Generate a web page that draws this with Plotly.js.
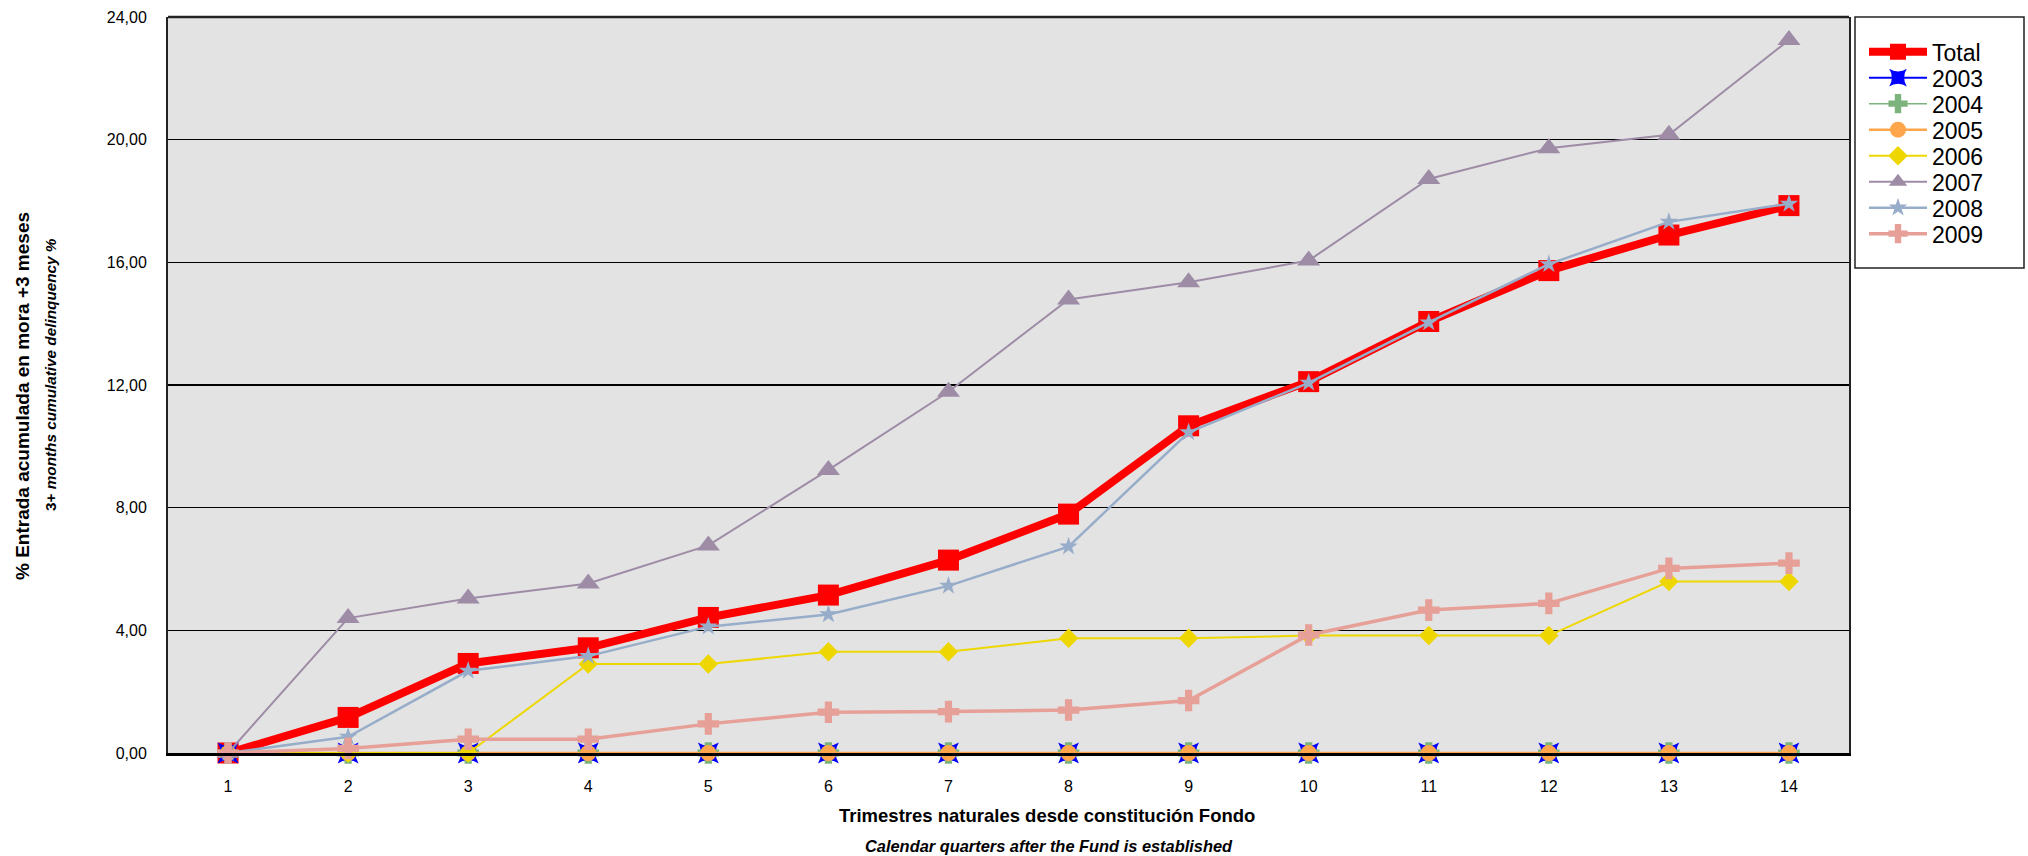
<!DOCTYPE html>
<html>
<head>
<meta charset="utf-8">
<script src="https://cdn.plot.ly/plotly-3.0.1.min.js"></script>
<style>
  html, body { margin: 0; padding: 0; background: #ffffff; }
  #chart { width: 2028px; height: 856px; }
</style>
</head>
<body>
<div id="chart"></div>
<script>
// ---- Data ----
const quarters = [1, 2, 3, 4, 5, 6, 7, 8, 9, 10, 11, 12, 13, 14];
const yTickVals = [0, 4, 8, 12, 16, 20, 24];

const seriesNames = ["Total", "2003", "2004", "2005", "2006", "2007", "2008", "2009"];

const total  = [0.00, 1.16, 2.92, 3.43, 4.42, 5.15, 6.29, 7.79, 10.67, 12.11, 14.07, 15.73, 16.89, 17.85];
const y2003  = [0, 0, 0, 0, 0, 0, 0, 0, 0, 0, 0, 0, 0, 0];
const y2004  = [0, 0, 0, 0, 0, 0, 0, 0, 0, 0, 0, 0, 0, 0];
const y2005  = [0, 0, 0, 0, 0, 0, 0, 0, 0, 0, 0, 0, 0, 0];
const y2006  = [0.00, 0.00, 0.00, 2.90, 2.90, 3.30, 3.30, 3.74, 3.74, 3.83, 3.83, 3.83, 5.59, 5.59];
const y2007  = [0.00, 4.40, 5.04, 5.53, 6.77, 9.23, 11.78, 14.79, 15.35, 16.06, 18.72, 19.72, 20.16, 23.25];
const y2008  = [0.00, 0.53, 2.68, 3.16, 4.12, 4.52, 5.45, 6.73, 10.46, 12.07, 14.04, 15.94, 17.32, 17.91];
const y2009  = [0.00, 0.15, 0.45, 0.45, 0.95, 1.33, 1.35, 1.40, 1.71, 3.85, 4.66, 4.88, 6.02, 6.19];

const yTitle1 = "% Entrada acumulada en mora +3 meses";
const yTitle2 = "3+ <i>months cumulative delinquency %</i>";
const xTitle1 = "Trimestres naturales desde constitución Fondo";
const xTitle2 = "Calendar quarters after the Fund is established";

// ---- Styles ----
const FONT = "Liberation Sans, Arial, Helvetica, sans-serif";
const styles = [
  {color: "#FF0000", width: 8,   symbol: "square",      size: 21},
  {color: "#0000FF", width: 2,   symbol: "star-square", size: 19},
  {color: "#7DB37D", width: 1.5, symbol: "cross",       size: 18},
  {color: "#FFA54C", width: 2.5, symbol: "circle",      size: 16},
  {color: "#EED700", width: 2,   symbol: "diamond",     size: 15},
  {color: "#9E8CA6", width: 2,   symbol: "triangle-up", size: 20},
  {color: "#97ADC9", width: 2.5, symbol: "star",        size: 14},
  {color: "#E6A097", width: 3.5, symbol: "cross",       size: 18}
];
const values = [total, y2003, y2004, y2005, y2006, y2007, y2008, y2009];

// plot area in pixels (for placing paper-referenced decorations)
const PL = 168, PR = 1849, PT = 17, PB = 753;
const PW = PR - PL, PH = PB - PT;
const px = v => (v - PL) / PW;
const py = v => (PB - v) / PH;

const legendIds = values.map((_, i) => i === 0 ? "legend" : "legend" + (i + 1));

const traces = values.map((vals, i) => ({
  type: "scatter",
  mode: "lines+markers",
  name: seriesNames[i],
  legend: legendIds[i],
  x: quarters,
  y: vals,
  cliponaxis: false,
  line: {color: styles[i].color, width: styles[i].width},
  marker: {color: styles[i].color, symbol: styles[i].symbol, size: styles[i].size,
           line: {width: 0}}
}));

const layout = {
  width: 2028,
  height: 856,
  margin: {l: PL, r: 2028 - PR, t: PT, b: 856 - PB, pad: 0},
  paper_bgcolor: "#ffffff",
  plot_bgcolor: "#E3E3E3",
  font: {family: FONT, color: "#000000", size: 16},
  showlegend: true,
  xaxis: {
    type: "linear",
    range: [0.5, 14.5],
    tickvals: quarters,
    ticktext: quarters.map(String),
    ticks: "",
    ticklabelstandoff: 17,
    showgrid: false,
    zeroline: false,
    showline: true,
    linecolor: "#000000",
    linewidth: 3,
    tickfont: {family: FONT, size: 16, color: "#000000"},
    fixedrange: true
  },
  yaxis: {
    range: [0, 24],
    tickvals: yTickVals,
    tickformat: ".2f",
    ticks: "",
    ticklabelstandoff: 16,
    showgrid: true,
    gridcolor: "#000000",
    gridwidth: 1.5,
    zeroline: false,
    showline: true,
    mirror: true,
    linecolor: "#222222",
    linewidth: 2,
    tickfont: {family: FONT, size: 16, color: "#000000"},
    fixedrange: true
  },
  separators: ",.",
  shapes: [
    {type: "line", xref: "paper", yref: "paper", x0: 0, x1: 1, y0: 1, y1: 1,
     line: {color: "#222222", width: 2.5}},
    {type: "rect", xref: "paper", yref: "paper",
     x0: px(1855), x1: px(2024), y0: py(268), y1: py(17),
     line: {color: "#222222", width: 1.5}, fillcolor: "rgba(0,0,0,0)", layer: "above"}
  ],
  annotations: [
    {text: "<b>" + yTitle1 + "</b>", xref: "paper", yref: "paper",
     x: px(22), y: py(396), xanchor: "center", yanchor: "middle",
     textangle: -90, showarrow: false, font: {family: FONT, size: 19, color: "#000"}},
    {text: "<b>" + yTitle2 + "</b>", xref: "paper", yref: "paper",
     x: px(50), y: py(375), xanchor: "center", yanchor: "middle",
     textangle: -90, showarrow: false, font: {family: FONT, size: 15.3, color: "#000"}},
    {text: "<b>" + xTitle1 + "</b>", xref: "paper", yref: "paper",
     x: px(1047), y: py(815), xanchor: "center", yanchor: "middle",
     showarrow: false, font: {family: FONT, size: 18.5, color: "#000"}},
    {text: "<b><i>" + xTitle2 + "</i></b>", xref: "paper", yref: "paper",
     x: px(1049), y: py(846), xanchor: "center", yanchor: "middle",
     showarrow: false, font: {family: FONT, size: 16.4, color: "#000"}}
  ]
};

// one single-item legend per series, stacked 26 px apart inside the box
legendIds.forEach((id, i) => {
  layout[id] = {
    x: px(1864), xanchor: "left",
    y: py(51.7 + 26 * i), yanchor: "middle",
    bgcolor: "rgba(0,0,0,0)",
    borderwidth: 0,
    font: {family: FONT, size: 23, color: "#000000"},
    itemwidth: 58
  };
});

Plotly.newPlot("chart", traces, layout, {displayModeBar: false, staticPlot: true});
</script>
</body>
</html>
